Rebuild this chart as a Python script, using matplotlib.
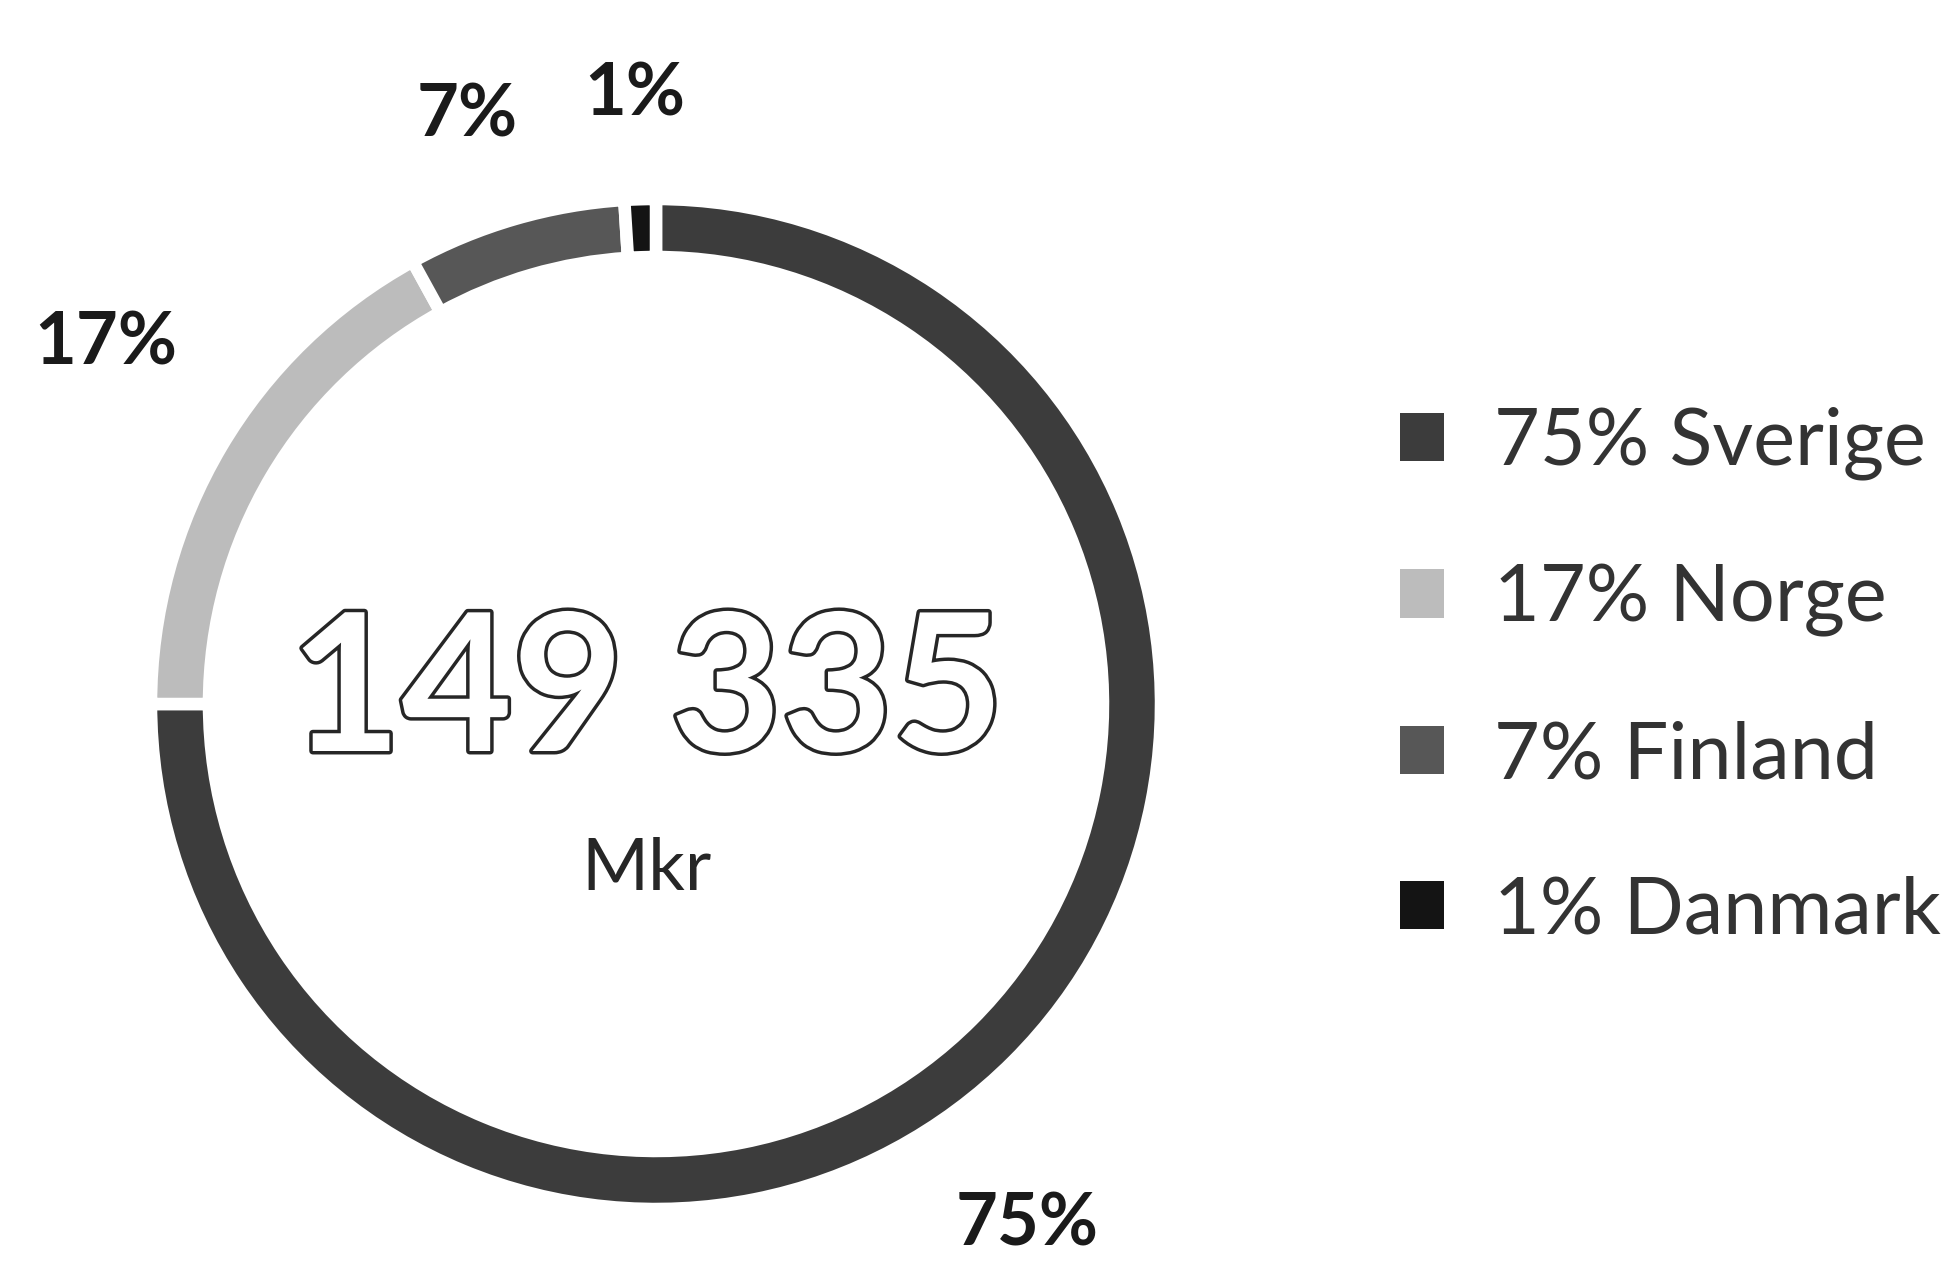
import numpy as np
import matplotlib.pyplot as plt
import matplotlib.patheffects as pe

plt.rcParams['font.family'] = ['Lato', 'DejaVu Sans']

# data
countries = ['Sverige', 'Norge', 'Finland', 'Danmark']
shares = [75, 17, 7, 1]
total_text = '149 335'
unit_text = 'Mkr'

colors = ['#3c3c3c', '#bcbcbc', '#575757', '#141414']

# label placement tweaks (radius factor, angle shift in degrees)
label_dist = [1.267, 1.301, 1.223, 1.206]
label_shift = [-9.5, -2.6, 1.6, 0.2]

W, H = 1952, 1262
fig = plt.figure(figsize=(W / 100, H / 100), dpi=100)
ax = fig.add_axes([0, 0, 1, 1])

cx, cy = 656, H - 704
R = 505

wedges, _ = ax.pie(shares, colors=colors, startangle=90, counterclock=False,
                   center=(cx, cy), radius=R,
                   wedgeprops=dict(width=58, edgecolor='white', linewidth=9))
ax.set_xlim(0, W)
ax.set_ylim(0, H)
ax.set_aspect('equal')
ax.axis('off')

# percentage labels outside the ring
for w, p, d, s in zip(wedges, shares, label_dist, label_shift):
    ang = np.deg2rad((w.theta1 + w.theta2) / 2 + s)
    ax.text(cx + d * R * np.cos(ang), cy + d * R * np.sin(ang), f'{p}%',
            ha='center', va='center', fontsize=52, fontweight='bold',
            color='#1a1a1a')

# centre total
ax.text(cx - 9, cy + 8, total_text, ha='center', va='center',
        fontsize=138, fontweight='bold', color='white',
        path_effects=[pe.withStroke(linewidth=5, foreground='#262626')])
ax.text(cx - 9, cy - 166, unit_text, ha='center', va='center',
        fontsize=52, color='#262626')

leg = ax.legend(wedges, [f'{p}% {c}' for p, c in zip(shares, countries)],
                loc='center left', bbox_to_anchor=(1400 / W, 1 - 677 / H),
                frameon=False, fontsize=57, handlelength=0.56,
                handleheight=0.56, handletextpad=0.63, labelspacing=1.05,
                borderpad=0, borderaxespad=0)
for t in leg.get_texts():
    t.set_color('#333333')
for h in leg.legend_handles:
    h.set_edgecolor('none')

fig.savefig('out.png', dpi=100)
